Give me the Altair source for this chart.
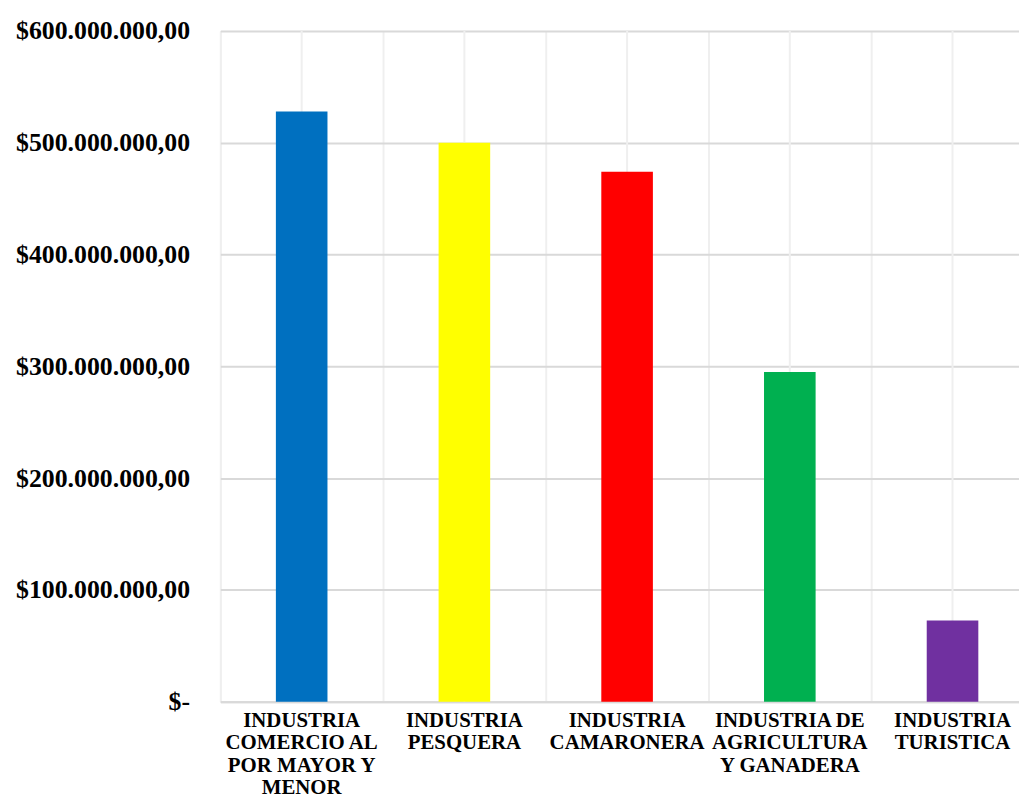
import altair as alt
import pandas as pd

categories = [
    "INDUSTRIA\nCOMERCIO AL\nPOR MAYOR Y\nMENOR",
    "INDUSTRIA\nPESQUERA",
    "INDUSTRIA\nCAMARONERA",
    "INDUSTRIA DE\nAGRICULTURA\nY GANADERA",
    "INDUSTRIA\nTURISTICA",
]
values = [528000000, 500000000, 474000000, 295000000, 72500000]
colors = ["#0070C0", "#FFFF00", "#FF0000", "#00B050", "#7030A0"]
y_ticks = [0, 100000000, 200000000, 300000000, 400000000, 500000000, 600000000]

df = pd.DataFrame({"cat": categories, "val": values, "col": colors})

FONT = "Liberation Serif"
PLOT_H = 676

x_enc = alt.X(
    "cat:N",
    sort=categories,
    scale=alt.Scale(paddingInner=0, paddingOuter=0, range=[0, 820]),
    axis=alt.Axis(
        title=None,
        labelAngle=0,
        labelExpr="split(datum.label, '\\n')",
        labelFont=FONT,
        labelFontSize=21,
        labelFontWeight="bold",
        labelColor="#000000",
        labelLineHeight=22.5,
        labelPadding=8,
        labelBaseline="top",
        labelOverlap=False,
        ticks=False,
        grid=True,
        bandPosition=0,
        gridColor="#efefef",
        gridWidth=2,
        domain=True,
        domainColor="#d9d9d9",
        domainWidth=2,
    ),
)

rules = alt.Chart(df).mark_rule(color="#efefef", strokeWidth=2).encode(
    x=x_enc,
    y=alt.value(0),
    y2=alt.value(PLOT_H),
)

bars = alt.Chart(df).mark_bar(size=52).encode(
    x=x_enc,
    y=alt.Y(
        "val:Q",
        scale=alt.Scale(domain=[0, 600000000], nice=False),
        axis=alt.Axis(
            title=None,
            values=y_ticks,
            labelExpr="datum.value == 0 ? '$-\u00a0\u00a0' : '$' + format(datum.value / 1000000, 'd') + '.000.000,00'",
            labelFont=FONT,
            labelFontSize=26,
            labelFontWeight="bold",
            labelColor="#000000",
            labelPadding=31,
            ticks=False,
            domain=False,
            grid=True,
            gridColor="#d9d9d9",
            gridWidth=2,
        ),
    ),
    color=alt.Color("col:N", scale=None),
)

chart = (
    alt.layer(rules, bars)
    .properties(
        width=805,
        height=PLOT_H,
        autosize=alt.AutoSizeParams(type="none"),
        padding={"top": 20, "left": 214, "right": 0, "bottom": 94},
    )
    .configure_view(stroke=None)
    .configure(background="#ffffff")
)

chart.save("out.html", embed_options={"renderer": "svg", "actions": False})
